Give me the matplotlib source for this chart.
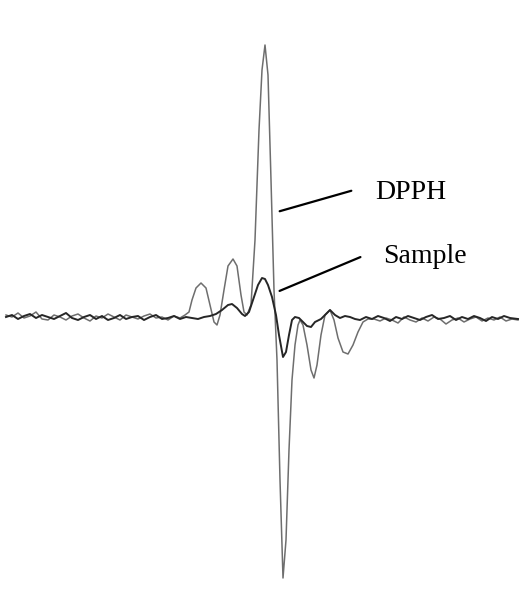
import matplotlib.pyplot as plt

# field axis (arbitrary units) and signal (arbitrary units, baseline = 0)
dpph_x = [6, 12, 18, 24, 30, 36, 42, 48, 54, 60, 66, 72, 78, 84, 90, 96, 102,
          108, 114, 120, 126, 132, 138, 144, 150, 156, 162, 168, 174, 180, 185,
          189, 192, 196, 201, 206, 210, 214, 217, 220, 224, 228, 233, 237, 241,
          244, 247, 251, 255, 259, 262, 265, 268, 271, 274, 277, 280, 283, 286,
          289, 292, 295, 298, 300, 303, 307, 311, 314, 317, 321, 325, 330, 334,
          338, 343, 348, 353, 358, 363, 368, 374, 380, 386, 392, 398, 404, 410,
          416, 422, 428, 434, 440, 446, 452, 458, 464, 470, 476, 482, 488, 494,
          500, 506, 512, 518]
dpph_y = [3, 1, 5, 0, 2, 6, -1, -2, 3, 1, -2, 2, 4, 0, -3, 2, 0, 4, 1, -2, 3,
          1, -1, 2, 4, 0, 1, -2, 2, 0, 3, 6, 18, 30, 35, 30, 13, -4, -7, 3, 28,
          52, 59, 52, 23, 6, 3, 13, 78, 188, 248, 273, 243, 138, 28, -42, -162,
          -260, -222, -132, -62, -27, -7, -2, -7, -27, -52, -60, -47, -17, 3, 8,
          -2, -20, -34, -36, -27, -14, -4, -1, -1, -3, 0, -2, -5, 1, -2, -4, 0,
          -3, 1, -1, -6, -2, 0, -4, -1, 1, -3, 0, -2, 1, -3, -1, -2]

sample_x = [6, 12, 18, 24, 30, 36, 42, 48, 54, 60, 66, 72, 78, 84, 90, 96, 102,
            108, 114, 120, 126, 132, 138, 144, 150, 156, 162, 168, 174, 180,
            186, 192, 198, 204, 210, 216, 222, 228, 232, 237, 242, 245, 249,
            253, 258, 262, 265, 268, 272, 276, 279, 283, 286, 289, 292, 295,
            299, 303, 307, 311, 315, 321, 326, 330, 335, 340, 345, 350, 355,
            360, 366, 372, 378, 384, 390, 396, 402, 408, 414, 420, 426, 432,
            438, 444, 450, 456, 462, 468, 474, 480, 486, 492, 498, 504, 510, 518]
sample_y = [1, 3, -1, 2, 4, 0, 3, 1, -1, 2, 5, 0, -2, 1, 3, -1, 2, -2, 0, 3,
            -1, 1, 2, -2, 1, 3, -1, 0, 2, -1, 1, 0, -1, 1, 2, 4, 8, 13, 14, 10,
            4, 2, 6, 18, 33, 40, 39, 33, 21, 3, -17, -39, -34, -17, -2, 1, 0,
            -4, -8, -9, -4, -1, 4, 8, 3, 0, 2, 1, -1, -2, 1, -1, 2, 0, -3, 1,
            -1, 2, 0, -2, 1, 3, -1, 0, 2, -2, 1, -1, 2, 0, -3, 1, -1, 2, 0, -1]

labels = ["DPPH", "Sample"]

fig = plt.figure(figsize=(5.2, 6.06), dpi=100)
ax = fig.add_axes([0, 0, 1, 1])
# baseline sits at ~318 px from the top of the 606 px image
ax.set_xlim(0, 520)
ax.set_ylim(318 - 606, 318)

ax.plot(dpph_x, dpph_y, color="#6e6e6e", lw=1.1)
ax.plot(sample_x, sample_y, color="#262626", lw=1.4)

ax.annotate("", xy=(277, 318 - 212), xytext=(354, 318 - 190),
            arrowprops=dict(arrowstyle="-", color="black", lw=1.6))
ax.annotate("", xy=(277, 318 - 292), xytext=(363, 318 - 256),
            arrowprops=dict(arrowstyle="-", color="black", lw=1.6))
ax.text(375, 318 - 199, labels[0], family="Liberation Serif", fontsize=20,
        va="baseline", ha="left")
ax.text(383, 318 - 263, labels[1], family="Liberation Serif", fontsize=20,
        va="baseline", ha="left")

ax.axis("off")
fig.savefig("out.png", dpi=100, facecolor="white")
